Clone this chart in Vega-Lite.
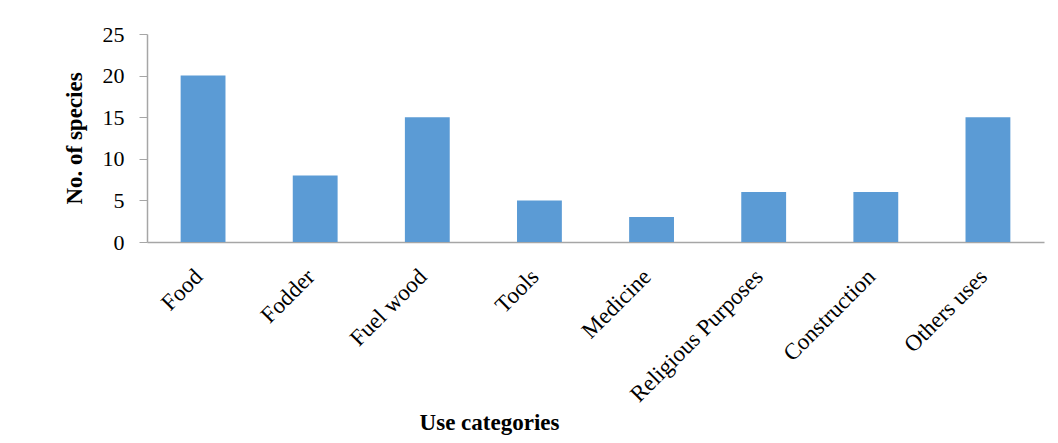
{
  "$schema": "https://vega.github.io/schema/vega-lite/v6.json",
  "autosize": "none",
  "padding": {"left": 147, "top": 34, "right": 14, "bottom": 201},
  "width": 897,
  "height": 208,
  "background": "white",
  "data": {"values": [
    {"category": "Food", "species": 20},
    {"category": "Fodder", "species": 8},
    {"category": "Fuel wood", "species": 15},
    {"category": "Tools", "species": 5},
    {"category": "Medicine", "species": 3},
    {"category": "Religious Purposes", "species": 6},
    {"category": "Construction", "species": 6},
    {"category": "Others uses", "species": 15}
  ]},
  "mark": {"type": "bar", "color": "#5B9BD5"},
  "encoding": {
    "x": {
      "field": "category", "type": "nominal", "sort": null,
      "scale": {"paddingInner": 0.6, "paddingOuter": 0.3},
      "axis": {
        "title": "Use  categories",
        "titleFont": "Liberation Serif", "titleFontSize": 23, "titleFontWeight": "bold", "titleColor": "#000",
        "titleX": 342, "titleY": 187, "titleBaseline": "alphabetic", "titleAnchor": "middle",
        "labelAngle": -45, "labelAlign": "right", "labelBaseline": "top",
        "labelFont": "Liberation Serif", "labelFontSize": 23, "labelColor": "#000", "labelPadding": 23, "labelOffset": -12,
        "ticks": false, "domainColor": "#A6A6A6", "domainWidth": 1.5
      }
    },
    "y": {
      "field": "species", "type": "quantitative",
      "scale": {"domain": [0, 25]},
      "axis": {
        "title": "No. of species", "values": [0, 5, 10, 15, 20, 25],
        "titleFont": "Liberation Serif", "titleFontSize": 23, "titleFontWeight": "bold", "titleColor": "#000",
        "titlePadding": 16,
        "labelFont": "Liberation Serif", "labelFontSize": 22, "labelColor": "#000", "labelPadding": 15,
        "grid": false, "tickSize": 8, "tickColor": "#A6A6A6", "domainColor": "#A6A6A6", "domainWidth": 1.5, "tickWidth": 1
      }
    }
  },
  "config": {"view": {"stroke": null}}
}
